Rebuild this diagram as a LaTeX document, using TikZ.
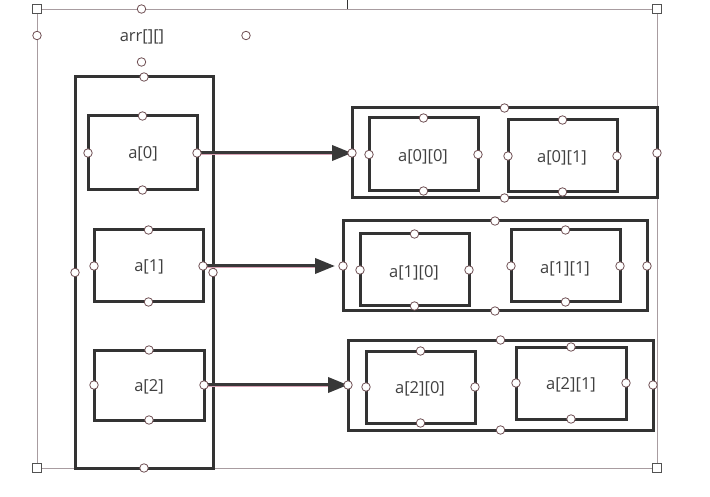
\documentclass[tikz,border=0pt]{standalone}
\usepackage{fontspec}
\setmainfont{Open Sans}
\usetikzlibrary{fit,arrows.meta}
\definecolor{ln}{HTML}{333333}
\definecolor{tx}{HTML}{404040}
\definecolor{cpc}{HTML}{6E4E52}
\definecolor{sel}{HTML}{A89CA0}
\definecolor{arrc}{HTML}{383838}
\definecolor{pinkl}{HTML}{D9A3B5}
\begin{document}
\begin{tikzpicture}[x=1pt,y=-1pt,
  box/.style={draw=ln, line width=3pt, inner sep=0pt, outer sep=0pt},
  lbl/.style={inner sep=0pt, outer sep=0pt, font=\fontsize{16.5}{19}\selectfont, text=tx, anchor=center},
  cp/.style={circle, draw=cpc, fill=white, line width=0.8pt, minimum size=8.5pt, inner sep=0pt},
  hd/.style={rectangle, draw=ln!85, fill=white, line width=0.9pt, minimum size=8.5pt, inner sep=0pt},
  seln/.style={draw=sel, line width=0.9pt},
  arr/.style={draw=arrc, line width=3.6pt, -{Triangle[length=20pt,width=15pt]}},
  hl/.style={draw=pinkl, line width=0.8pt}
]
\useasboundingbox (0,0) rectangle (710,497);
\fill[white] (0,0) rectangle (710,497);

% selection frame
\coordinate (s1) at (37,9);
\coordinate (s2) at (657,9);
\coordinate (s3) at (657,468);
\coordinate (s4) at (37,468);
\draw[seln] (s1) -- (s2) -- (s3) -- (s4) -- cycle;
\coordinate (t1) at (347,0);
\coordinate (t2) at (347,9);
\draw[ln, line width=0.9pt] (t1) -- (t2);

% title text box
\node[inner sep=0pt, outer sep=0pt, fit={(37,9) (246,62)}] (title) {};
\node[lbl] (titletext) at (142,37) {arr[][]};

% left array
\node[box, fit={(75,77) (213,468)}] (outer) {};
\node[box, fit={(88,116) (197,190)}] (a0) {};
\node[box, fit={(94,230) (203,302)}] (a1) {};
\node[box, fit={(94,350) (204,420)}] (a2) {};

% row containers
\node[box, fit={(352,108) (657,198)}] (c0) {};
\node[box, fit={(369,118) (478,191)}] (a00) {};
\node[box, fit={(508,120) (617,192)}] (a01) {};

\node[box, fit={(343,221) (647,311)}] (c1) {};
\node[box, fit={(360,234) (469,306)}] (a10) {};
\node[box, fit={(511,230) (620,302)}] (a11) {};

\node[box, fit={(348,340) (653,430)}] (c2) {};
\node[box, fit={(366,351) (475,423)}] (a20) {};
\node[box, fit={(516,347) (626,419)}] (a21) {};

% labels
\node[lbl] (l0) at (143,154) {a[0]};
\node[lbl] (l1) at (149,267) {a[1]};
\node[lbl] (l2) at (149,387) {a[2]};
\node[lbl] (l00) at (423,157) {a[0][0]};
\node[lbl] (l01) at (562,158) {a[0][1]};
\node[lbl] (l10) at (414,273) {a[1][0]};
\node[lbl] (l11) at (565,269) {a[1][1]};
\node[lbl] (l20) at (420,389) {a[2][0]};
\node[lbl] (l21) at (571,385) {a[2][1]};

% arrows
\draw[arr] (a0.east) -- (c0.west);
\draw[arr, shorten >=8pt] (a1.east) -- (c1.west);
\draw[arr] (a2.east) -- (c2.west);
\draw[hl] ([yshift=-1pt]a0.east) -- ([yshift=-1pt,xshift=-20pt]c0.west);
\draw[hl] ([yshift=-1pt]a1.east) -- ([yshift=-1pt,xshift=-28pt]c1.west);
\draw[hl] ([yshift=-1pt]a2.east) -- ([yshift=-1pt,xshift=-20pt]c2.west);

% connection points
\foreach \n in {title,outer,a0,a1,a2,c0,a00,a01,c1,a10,a11,c2,a20,a21}{
  \foreach \a in {north,south,east,west}{
    \node[cp] (\n-\a) at (\n.\a) {};
  }
}

% selection handles
\node[hd] (h1) at (s1) {};
\node[hd] (h2) at (s2) {};
\node[hd] (h3) at (s3) {};
\node[hd] (h4) at (s4) {};
\end{tikzpicture}
\end{document}
